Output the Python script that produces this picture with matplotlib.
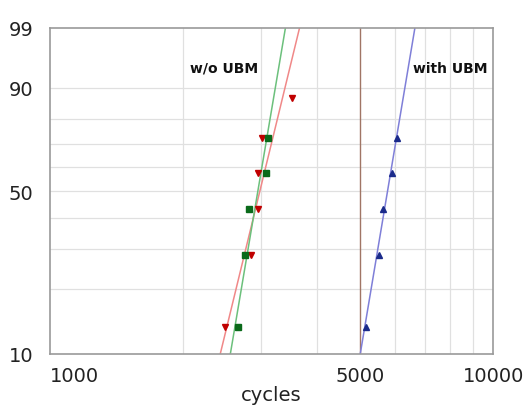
import numpy as np
import matplotlib
matplotlib.use("Agg")
import matplotlib.pyplot as plt

# ---- data ----
prob_ranks = [13.4, 28.1, 43.0, 57.7, 72.3, 87.0]          # % unreliability
red_cycles = [2480, 2841, 2942, 2953, 3010, 3509]          # w/o UBM (set 1)
green_cycles = [2661, 2752, 2806, 3074, 3101]              # w/o UBM (set 2)
blue_cycles = [5168, 5515, 5643, 5920, 6076]               # with UBM
# Weibull fits (shape beta, scale eta)
red_fit = (9.17, 3096)
green_fit = (13.2, 3027)
blue_fit = (13.3, 5937)
y_ticks = [10, 50, 90, 99]
y_grid = [20, 30, 40, 60, 70, 80]
x_ticks = [1000, 5000, 10000]
x_grid = [2000, 3000, 4000, 6000, 7000, 8000, 9000]
ref_line = 5000


def fwd(p):
    p = np.clip(np.asarray(p, dtype=float), 1e-6, 100 - 1e-6)
    return np.log(-np.log(1 - p / 100.0))


def inv(w):
    w = np.asarray(w, dtype=float)
    return 100.0 * (1 - np.exp(-np.exp(w)))


def fit_line(params):
    beta, eta = params
    F = np.linspace(10, 99, 200)
    x = eta * (-np.log(1 - F / 100.0)) ** (1.0 / beta)
    return x, F


fig = plt.figure(figsize=(5.32, 4.06), dpi=100)
ax = fig.add_axes([0.094, 0.126, 0.833, 0.803])
ax.set_xscale('log')
ax.set_yscale('function', functions=(fwd, inv))
ax.set_xlim(1000, 10000)
ax.set_ylim(10, 99)

# grid
for g in x_grid:
    ax.axvline(g, color='#e0e0e0', lw=0.9, zorder=0)
for g in y_grid + [50, 90]:
    ax.axhline(g, color='#e0e0e0', lw=0.9, zorder=0)
ax.axvline(ref_line, color='#a07565', lw=1.0, zorder=1)

# fit lines
for params, col in [(red_fit, '#f08888'), (green_fit, '#6cc07c'), (blue_fit, '#7f7fd8')]:
    xx, FF = fit_line(params)
    ax.plot(xx, FF, color=col, lw=1.1, zorder=2)

# points
ax.plot(red_cycles, prob_ranks[:len(red_cycles)], 'v', color='#c00000', ms=5, zorder=3)
ax.plot(green_cycles, prob_ranks[:len(green_cycles)], 's', color='#0a6a1a', ms=4, zorder=3)
ax.plot(blue_cycles, prob_ranks[:len(blue_cycles)], '^', color='#1a2a8a', ms=5, zorder=3)

ax.text(2466, 94.5, 'w/o UBM', fontsize=10, fontweight='bold', ha='center', va='center', color='#111111')
ax.text(8019, 94.5, 'with UBM', fontsize=10, fontweight='bold', ha='center', va='center', color='#111111')

# ticks
ax.set_yticks(y_ticks)
ax.set_yticklabels([str(v) for v in y_ticks])
ax.yaxis.set_minor_locator(matplotlib.ticker.NullLocator())
ax.set_xticks(x_ticks)
ax.set_xticklabels([str(v) for v in x_ticks])
ax.xaxis.set_minor_locator(matplotlib.ticker.NullLocator())
ax.tick_params(axis='both', length=0, labelsize=14, colors='#222222')
ax.tick_params(axis='y', pad=12)
ax.tick_params(axis='x', pad=9)
labs = ax.get_xticklabels()
labs[0].set_horizontalalignment('left')

ax.set_xlabel('cycles', fontsize=14, color='#222222', labelpad=0)

for s in ax.spines.values():
    s.set_color('#9a9a9a')
    s.set_linewidth(1.2)

fig.savefig('out.png', dpi=100)
